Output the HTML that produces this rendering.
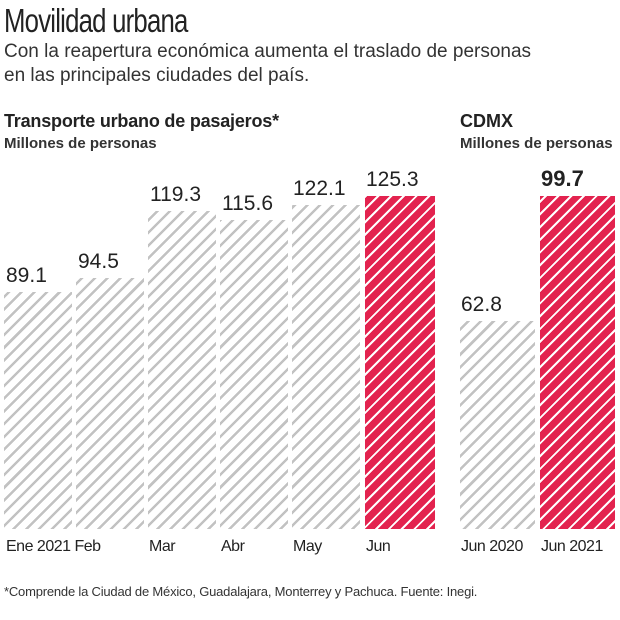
<!DOCTYPE html>
<html><head><meta charset="utf-8"><style>
body{margin:0;width:620px;height:620px;background:#fff;position:relative;overflow:hidden;font-family:"Liberation Sans",sans-serif;color:#222}
.a{position:absolute;white-space:nowrap}
.g{position:absolute;bottom:91px;background:repeating-linear-gradient(-45deg,#fff 0 4px,#c2c2c2 4px 6.5px,#fff 6.5px 9px)}
.r{position:absolute;bottom:91px;background:repeating-linear-gradient(-45deg,#e3234f 0 4.5px,#fff 4.5px 6.5px,#e3234f 6.5px 9px)}
.v{font-size:21px;color:#222}
.x{font-size:16px;top:538px;letter-spacing:-0.5px}
</style></head><body>
<div class="a" style="left:4px;top:2px;font-size:33px;font-family:'Liberation Sans Narrow','Liberation Sans',sans-serif;transform:scaleX(0.78);transform-origin:left;letter-spacing:-1px">Movilidad urbana</div>
<div class="a" style="left:4px;top:40px;font-size:19px;line-height:24px;letter-spacing:0px;color:#333">Con la reapertura económica aumenta el traslado de personas<br>en las principales ciudades del país.</div>
<div class="a" style="left:4px;top:111px;font-size:18px;font-weight:bold;letter-spacing:-0.2px">Transporte urbano de pasajeros*</div>
<div class="a" style="left:4px;top:135px;font-size:15px;font-weight:bold;color:#333">Millones de personas</div>
<div class="a" style="left:460px;top:111px;font-size:18px;font-weight:bold">CDMX</div>
<div class="a" style="left:460px;top:135px;font-size:15px;font-weight:bold;color:#333">Millones de personas</div>

<div class="g" style="left:4px;width:68px;top:292px"></div>
<div class="g" style="left:76px;width:68px;top:278px"></div>
<div class="g" style="left:148px;width:68px;top:211px"></div>
<div class="g" style="left:220px;width:68px;top:220px"></div>
<div class="g" style="left:292px;width:68px;top:205px"></div>
<div class="r" style="left:365px;width:70px;top:196px"></div>
<div class="g" style="left:460px;width:75px;top:321px"></div>
<div class="r" style="left:540px;width:75px;top:196px"></div>

<div class="a v" style="left:6px;top:264px">89.1</div>
<div class="a v" style="left:78px;top:250px">94.5</div>
<div class="a v" style="left:150px;top:183px">119.3</div>
<div class="a v" style="left:222px;top:192px">115.6</div>
<div class="a v" style="left:293px;top:177px">122.1</div>
<div class="a v" style="left:366px;top:168px">125.3</div>
<div class="a v" style="left:461px;top:293px">62.8</div>
<div class="a v" style="left:541px;top:166px;font-weight:bold;font-size:22px">99.7</div>

<div class="a x" style="left:6px">Ene 2021 Feb</div>
<div class="a x" style="left:149px">Mar</div>
<div class="a x" style="left:221px">Abr</div>
<div class="a x" style="left:293px">May</div>
<div class="a x" style="left:366px">Jun</div>
<div class="a x" style="left:461px">Jun 2020</div>
<div class="a x" style="left:541px">Jun 2021</div>
<div class="a" style="left:4px;top:584px;font-size:13px;letter-spacing:-0.2px;color:#333">*Comprende la Ciudad de México, Guadalajara, Monterrey y Pachuca. Fuente: Inegi.</div>
</body></html>
